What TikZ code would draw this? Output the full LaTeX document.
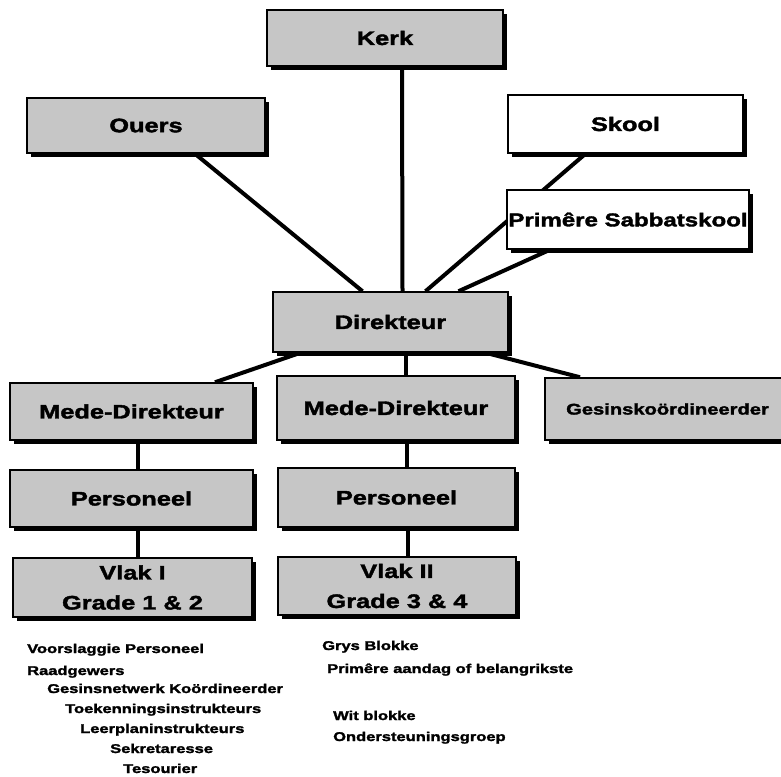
\documentclass[tikz,border=0pt]{standalone}
\usepackage{fontspec}
\setmainfont{Liberation Sans}[FakeStretch=1.3, BoldFeatures={FakeBold=2}]
\usepackage{tikz}
\usetikzlibrary{shadows}
\usetikzlibrary{positioning}
\usetikzlibrary{backgrounds}

\begin{document}
\begin{tikzpicture}[x=1pt, y=-1pt,
  box/.style={draw, line width=1.5pt, fill=gray!45, align=center, inner sep=0pt,
    font=\bfseries\fontsize{19.5}{30}\selectfont,
    drop shadow={shadow xshift=4pt, shadow yshift=-4pt, fill=black, opacity=1}},
  wbox/.style={box, fill=white},
  link/.style={line width=4pt},
  note/.style={anchor=base west, inner sep=0pt, font=\bfseries\fontsize{12.7}{15}\selectfont}]

  \useasboundingbox (0,0) rectangle (781,776);

 %top
    \foreach \x/\y/\w/\h/\txt/\name in { 385/38/236/56/Kerk/kerk, 146/125.5/238/55/Ouers/ouers, 390.5/322/235/60/Direkteur/dir} {
         \node[box, minimum width=\w pt, minimum height=\h pt] (\name) at (\x,\y) {\txt};
    }

    \node[wbox, minimum width=235pt, minimum height=58pt] (skool) at (625.5,124) {Skool};
    \node[wbox, minimum width=242pt, minimum height=59pt, font=\bfseries\fontsize{18.5}{22}\selectfont] (sabbat) at (628,219.5) {Primêre Sabbatskool};

 %under Direkteur
    \foreach \x/\y/\w/\h/\txt/\name in { 131.5/411.5/243/57/Mede-Direkteur/mede1, 396/408/238/64/Mede-Direkteur/mede2,
         131.5/498.5/243/57/Personeel/pers1, 396.5/497.5/237/59/Personeel/pers2,
         132.5/587.5/239/59/Vlak I\\Grade 1 \& 2/vlak1, 397/586/238/58/Vlak II\\Grade 3 \& 4/vlak2} {
         \node[box, minimum width=\w pt, minimum height=\h pt] (\name) at (\x,\y) {\txt};
    }

    \node[box, minimum width=245pt, minimum height=62pt, font=\bfseries\fontsize{15.5}{18}\selectfont] (gesin) at (667.5,409) {Gesinskoördineerder};

 %lines
  \begin{scope}[on background layer]
     \draw[link] ([xshift=17pt]kerk.south) -- ([xshift=12pt]dir.north);
     \draw[link] ([xshift=49pt]ouers.south) -- ([xshift=-28pt]dir.north);
     \draw[link] ([xshift=-40pt]skool.south) -- ([xshift=35pt]dir.north);
     \draw[link] ([xshift=-78pt]sabbat.south) -- ([xshift=68pt]dir.north);

     \draw[link] ([xshift=-90pt]dir.south) -- ([xshift=83.5pt]mede1.north);
     \draw[link] ([xshift=15pt]dir.south) -- ([xshift=15pt]dir.south |- mede2.north);
     \draw[link] ([xshift=95pt]dir.south) -- ([xshift=-87.5pt]gesin.north);

     \draw[link] ([xshift=6.5pt]mede1.south) -- ([xshift=6.5pt]mede1.south |- pers1.north);
     \draw[link] ([xshift=6.5pt]pers1.south) -- ([xshift=6.5pt]pers1.south |- vlak1.north);
     \draw[link] ([xshift=11pt]mede2.south) -- ([xshift=11pt]mede2.south |- pers2.north);
     \draw[link] ([xshift=11pt]pers2.south) -- ([xshift=11pt]pers2.south |- vlak2.north);
  \end{scope}

 %notes
    \foreach \x/\y/\txt/\name in { 27/653/Voorslaggie Personeel/vp, 27/675/Raadgewers/raad, 47/693/Gesinsnetwerk Koördineerder/gnk,
         65/713/Toekenningsinstrukteurs/toek, 80/733/Leerplaninstrukteurs/leer, 110/753/Sekretaresse/sekr, 123/773/Tesourier/tes,
         322/650/Grys Blokke/grys, 327/673/Primêre aandag of belangrikste/aandag, 333/720/Wit blokke/wit, 333/741/Ondersteuningsgroep/onder} {
         \node[note] (\name) at (\x,\y) {\txt};
    }

\end{tikzpicture}
\end{document}
